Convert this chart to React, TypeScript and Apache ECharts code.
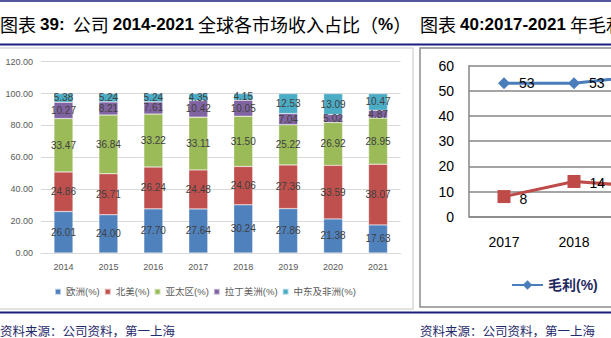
import React, { useEffect, useRef } from "react";
import * as echarts from "echarts";

const years = ["2014", "2015", "2016", "2017", "2018", "2019", "2020", "2021"];
const europe = [26.01, 24.0, 27.7, 27.64, 30.24, 27.86, 21.38, 17.63];
const northAmerica = [24.86, 25.71, 26.24, 24.48, 24.06, 27.36, 33.59, 38.07];
const asiaPacific = [33.47, 36.84, 33.22, 33.11, 31.5, 25.22, 26.92, 28.95];
const latinAmerica = [10.27, 8.21, 7.61, 10.42, 10.05, 7.04, 5.02, 4.87];
const middleEastAfrica = [5.38, 5.24, 5.24, 4.35, 4.15, 12.53, 13.09, 10.47];
const barNames = ["欧洲(%)", "北美(%)", "亚太区(%)", "拉丁美洲(%)", "中东及非洲(%)"];
const barColors = ["#4F81BD", "#C0504D", "#9BBB59", "#8064A2", "#4BACC6"];

const marginYears = ["2017", "2018", "2019"];
const grossMargin = [53, 53, 56];
const netMargin = [8, 14, 12];

const NAVY = "#1B1F7E";
const FONT = "Liberation Sans, Noto Sans CJK SC, sans-serif";
const CJK = "Noto Sans CJK SC, sans-serif";

export default function App() {
  const ref = useRef<HTMLDivElement>(null);
  useEffect(() => {
    const chart = echarts.init(ref.current!, undefined, { renderer: "svg" });
    const barData = [europe, northAmerica, asiaPacific, latinAmerica, middleEastAfrica];
    const titleRich = {
      c: { fontFamily: CJK, fontSize: 18, color: NAVY },
      b: { fontFamily: FONT, fontSize: 17, fontWeight: "bold", color: NAVY },
    };
    chart.setOption({
      animation: false,
      textStyle: { fontFamily: FONT },
      grid: [
        { left: 41, top: 61.7, width: 359.5, height: 191.3, outerBoundsMode: "none" },
        { left: 469, top: 65.7, width: 210, height: 151, outerBoundsMode: "none" },
      ],
      legend: [
        {
          data: barNames,
          orient: "horizontal",
          left: 54,
          top: 287,
          padding: 0,
          itemWidth: 6,
          itemHeight: 6,
          itemGap: 4,
          icon: "rect",
          textStyle: { fontSize: 9.5, color: "#595959", fontFamily: FONT },
        },
        {
          data: ["毛利(%)"],
          orient: "horizontal",
          left: 511,
          top: 278,
          padding: 0,
          itemWidth: 31,
          itemHeight: 12,
          textStyle: { fontSize: 14, fontWeight: "bold", color: "#1F2A5E", fontFamily: FONT },
        },
      ],
      xAxis: [
        {
          type: "category",
          gridIndex: 0,
          data: years,
          axisLine: { lineStyle: { color: "#D9D9D9" } },
          axisTick: { show: false },
          axisLabel: { fontSize: 9, color: "#595959", margin: 9 },
        },
        {
          type: "category",
          gridIndex: 1,
          data: marginYears,
          axisLine: { lineStyle: { color: "#868686", width: 1.5 } },
          axisTick: { show: false },
          axisLabel: { fontSize: 14, color: "#000", margin: 18 },
        },
      ],
      yAxis: [
        {
          type: "value",
          gridIndex: 0,
          min: 0,
          max: 120,
          interval: 20,
          axisLine: { show: false },
          axisTick: { show: false },
          axisLabel: {
            fontSize: 9,
            color: "#595959",
            margin: 8,
            formatter: (v: number) => v.toFixed(2),
          },
          splitLine: { lineStyle: { color: "#D9D9D9" } },
        },
        {
          type: "value",
          gridIndex: 1,
          min: 0,
          max: 60,
          interval: 10,
          axisLine: { show: true, lineStyle: { color: "#868686", width: 1.5 } },
          axisTick: { show: false },
          axisLabel: { fontSize: 14, color: "#000", margin: 15 },
          splitLine: { lineStyle: { color: "#868686", width: 1.5 } },
        },
      ],
      series: [
        ...barNames.map((name, i) => ({
          name,
          type: "bar",
          stack: "share",
          xAxisIndex: 0,
          yAxisIndex: 0,
          barWidth: 19,
          data: barData[i],
          itemStyle: { color: barColors[i], borderColor: "rgba(255,255,255,0.6)", borderWidth: 0.5 },
          label: {
            show: true,
            position: "inside",
            fontSize: 10,
            color: "#404040",
            formatter: (p: any) => Number(p.value).toFixed(2),
          },
        })),
        {
          name: "毛利(%)",
          type: "line",
          xAxisIndex: 1,
          yAxisIndex: 1,
          data: grossMargin,
          symbol: "diamond",
          symbolSize: 12,
          lineStyle: { color: "#4A7EBB", width: 3 },
          itemStyle: { color: "#4A7EBB" },
          label: { show: true, position: "right", distance: 9, fontSize: 14, color: "#000" },
          z: 5,
        },
        {
          name: "净利(%)",
          type: "line",
          xAxisIndex: 1,
          yAxisIndex: 1,
          data: netMargin,
          symbol: "rect",
          symbolSize: 13,
          lineStyle: { color: "#BE4B48", width: 3 },
          itemStyle: { color: "#BE4B48" },
          label: { show: true, position: "right", distance: 9, fontSize: 14, color: "#000", offset: [0, 2] },
          z: 5,
        },
      ],
      graphic: [
        { type: "line", shape: { x1: 0, y1: 1, x2: 611, y2: 1 }, style: { stroke: NAVY, lineWidth: 1.5 }, silent: true },
        { type: "line", shape: { x1: 0, y1: 44.5, x2: 611, y2: 44.5 }, style: { stroke: NAVY, lineWidth: 2 }, silent: true },
        { type: "line", shape: { x1: 0, y1: 312.5, x2: 611, y2: 312.5 }, style: { stroke: NAVY, lineWidth: 2 }, silent: true },
        {
          type: "rect",
          shape: { x: -2, y: 48, width: 415, height: 261 },
          style: { fill: "none", stroke: "#D9D9D9", lineWidth: 1.5 },
          silent: true,
          z: -1,
        },
        {
          type: "rect",
          shape: { x: 420, y: 48, width: 260, height: 259 },
          style: { fill: "none", stroke: "#8C8C8C", lineWidth: 1.5 },
          silent: true,
          z: -1,
        },
        {
          type: "text",
          x: 0,
          y: 24,
          style: {
            text: "{c|图表 }{b|39:}{c|  公司 }{b|2014-2021}{c| 全球各市场收入占比（}{b|%}{c|）}",
            rich: titleRich,
            verticalAlign: "middle",
          },
          silent: true,
        },
        {
          type: "text",
          x: 420,
          y: 24,
          style: {
            text: "{c|图表 }{b|40:2017-2021}{c| 年毛利率}",
            rich: titleRich,
            verticalAlign: "middle",
          },
          silent: true,
        },
        {
          type: "text",
          x: 0,
          y: 330,
          style: { text: "资料来源：公司资料，第一上海", font: `12.5px ${CJK}`, fill: "#1F2A6B", verticalAlign: "middle" },
          silent: true,
        },
        {
          type: "text",
          x: 420,
          y: 330,
          style: { text: "资料来源：公司资料，第一上海", font: `12.5px ${CJK}`, fill: "#1F2A6B", verticalAlign: "middle" },
          silent: true,
        },
      ],
    });
    return () => chart.dispose();
  }, []);
  return (
    <div
      ref={ref}
      style={{ position: "absolute", left: 0, top: 0, width: 611, height: 338, overflow: "hidden", background: "#fff" }}
    />
  );
}
